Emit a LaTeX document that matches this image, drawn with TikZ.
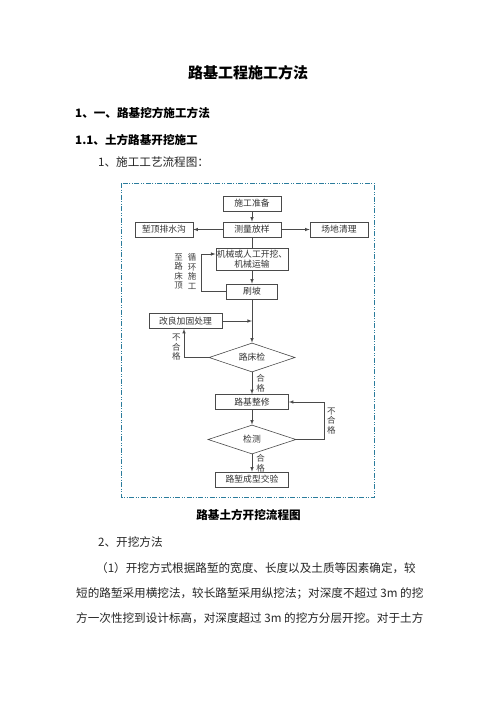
\documentclass[tikz,border=0pt]{standalone}
\usepackage{fontspec}
\setmainfont{Noto Sans CJK SC}
\usetikzlibrary{shapes.geometric,calc,arrows}
\definecolor{FrameTeal}{HTML}{2B7C9C}
\definecolor{LineGray}{HTML}{4A4A4A}
\tikzset{
    block/.style = {draw=LineGray, rectangle, line width=.6pt,
        minimum height=15pt,
        minimum width=58pt, inner sep=2pt,
        font=\fontsize{8.8}{10}\selectfont, text=black!80},
    check/.style = {draw=LineGray, diamond, aspect=3, line width=.6pt,
        minimum width=86pt,
        minimum height=29pt, inner sep=0pt,
        font=\fontsize{8.8}{10}\selectfont, text=black!80},
    arrow/.style={draw=LineGray, line width=.6pt, -latex},
    line/.style={draw=LineGray, line width=.6pt},
    vlabel/.style={align=center, inner sep=0pt, font=\fontsize{8.5}{9.6}\selectfont, text=black!75},
    frame/.style={draw=FrameTeal, line width=.8pt,
        dash pattern=on 5pt off 1.5pt on 1pt off 1.5pt on 1pt off 1.5pt},
    heading/.style={anchor=west, inner sep=0pt, font=\bfseries\fontsize{11.6}{14}\selectfont},
    body/.style={anchor=west, inner sep=0pt, font=\fontsize{11.6}{14}\selectfont, text=black!85}
}

\begin{document}
\begin{tikzpicture}[x=1pt,y=-1pt]
                \useasboundingbox[fill=white] (0,0) rectangle (496,702);
                \node[inner sep=0pt,font=\bfseries\fontsize{15}{18}\selectfont] (title) at (248,73) {路基工程施工方法};
                \node[heading] (sec1) at (75,113) {1、一、路基挖方施工方法};
                \node[heading] (sec11) at (75,140) {1.1、土方路基开挖施工};
                \node[body] (step1) at (98,162) {1、施工工艺流程图：};
                \draw[frame] (121,183) rectangle (374,497);
                \node[block] (prep) at (252,203.5) {施工准备};
                \node[block,below of=prep,node distance=26pt] (survey) {测量放样};
                \node[block,left of=survey,node distance=88pt] (ditch) {堑顶排水沟};
                \node[block,right of=survey,node distance=87pt] (clear) {场地清理};
                \node[block,minimum width=71pt,minimum height=22pt,inner xsep=1pt,align=center] (dig) at (252,259) {机械或人工开挖、\\机械运输};
                \node[block,minimum width=51pt] (slope) at (252,291.5) {刷坡};
                \node[vlabel] (looplbl) at (192,271.5) {循\\环\\施\\工};
                \node[vlabel] (toplbl) at (178.5,271.5) {至\\路\\床\\顶};
                \node[block,minimum width=73pt] (improve) at (185.5,321) {改良加固处理};
                \node[check] (bedchk) at (252,357.5) {路床检};
                \node[block,minimum width=73pt] (trim) at (252,402) {路基整修};
                \node[check,minimum width=88pt] (test) at (252,439.5) {检测};
                \node[block,minimum width=73pt] (accept) at (252,479.5) {路堑成型交验};
                \draw[arrow] (prep) -- (survey);
                \draw[arrow] (survey) -- (ditch);
                \draw[arrow] (survey) -- (clear);
                \draw[line] (survey) -- (dig);
                \draw[arrow] (dig) -- (slope);
                \draw[arrow] (slope.west) -- ++(-25,0) |- ([yshift=5pt]dig.west);
                \draw[arrow] (slope) -- (bedchk);
                \draw[arrow] (improve.east) -- (improve.east -| slope.south);
                \draw[arrow] (bedchk.west) -| node[pos=.68,left=3pt,vlabel]{不\\合\\格} ([xshift=-1.5pt]improve.south);
                \draw[arrow] (bedchk) -- node[right=4pt,vlabel]{合\\格} (trim);
                \draw[arrow] (trim) -- (test);
                \draw[arrow] (test.east) -| node[pos=.75,right=3pt,vlabel]{不\\合\\格} ($(trim.east)+(35,0)$) -- (trim.east);
                \draw[arrow] (test) -- node[right=4pt,vlabel]{合\\格} (accept);
                \node[heading,anchor=center] (caption) at (248.5,515) {路基土方开挖流程图};
                \node[body] (sub2) at (98,542) {2、开挖方法};
                \node[body] (para1) at (96,568) {（1）开挖方式根据路堑的宽度、长度以及土质等因素确定，较};
                \node[body] (para2) at (76,594) {短的路堑采用横挖法，较长路堑采用纵挖法；对深度不超过 3m 的挖};
                \node[body] (para3) at (76,618) {方一次性挖到设计标高，对深度超过 3m 的挖方分层开挖。对于土方};
\end{tikzpicture}
\end{document}
